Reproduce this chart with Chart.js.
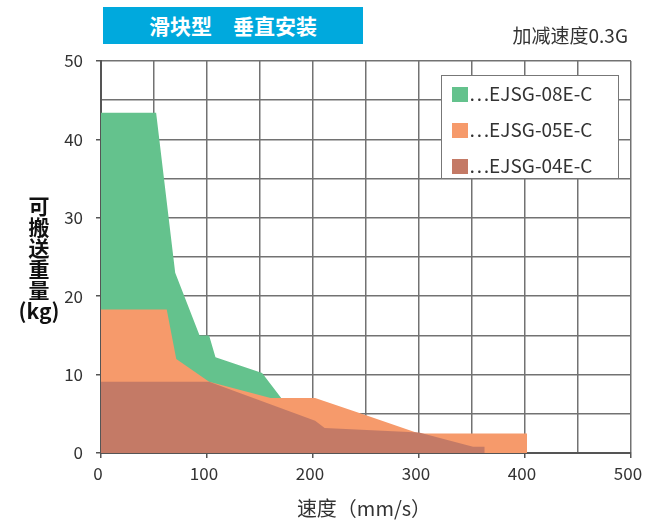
<!DOCTYPE html>
<html><head><meta charset="utf-8">
<script src="https://cdn.jsdelivr.net/npm/chart.js@4"></script>
<style>
html,body{margin:0;padding:0;background:#fff;}
#wrap{position:relative;width:668px;height:528px;font-family:"Noto Sans CJK SC","Noto Sans",sans-serif;}
#c{position:absolute;left:0;top:0;}
#title{position:absolute;left:103px;top:7px;width:260px;height:37px;background:#00a9dd;color:#fff;font-weight:bold;font-size:21px;line-height:37px;text-align:center;}
#sub{position:absolute;left:470px;top:23px;width:158px;text-align:right;font-size:19px;color:#333;line-height:24px;}
#ytitle{position:absolute;left:12px;top:195px;width:54px;text-align:center;font-weight:bold;font-size:21px;line-height:21px;color:#111;}
#xtitle{position:absolute;left:214px;top:494px;width:300px;text-align:center;font-size:20px;color:#333;line-height:28px;}
#legend{position:absolute;left:441px;top:75px;width:176px;height:102px;border:1.5px solid #777;background:#fff;}
.li{position:absolute;left:10px;height:22px;font-size:19px;color:#333;line-height:22px;white-space:nowrap;}
.sw{display:inline-block;width:16px;height:15px;vertical-align:-1px;margin-right:1px;}
</style></head>
<body>
<div id="wrap">
<canvas id="c" width="668" height="528"></canvas>
<div id="title">滑块型　垂直安装</div>
<div id="sub">加减速度0.3G</div>
<div id="ytitle">可<br>搬<br>送<br>重<br>量<br>(kg)</div>
<div id="xtitle">速度（mm/s）</div>
<div id="legend"></div>
</div>
<script>
// Data (speed mm/s -> payload kg)
const seriesNames = ['…EJSG-08E-C', '…EJSG-05E-C', '…EJSG-04E-C'];
const seriesColors = ['#64c28d', '#f69a6b', '#c47a66'];
const speed08 = [0, 52, 70, 93, 102, 108, 152, 170, 170];
const load08  = [43.4, 43.4, 23, 15, 15, 12.2, 10.2, 7, 0];
const speed05 = [0, 62, 71, 102, 160, 202, 250, 300, 402, 402];
const load05  = [18.3, 18.3, 12, 9.1, 7, 7, 4.8, 2.5, 2.5, 0];
const speed04 = [0, 102, 202, 211, 300, 351, 362, 362];
const load04  = [9.1, 9.1, 4.1, 3.2, 2.6, 0.8, 0.8, 0];
const xTickLabels = [0, 100, 200, 300, 400, 500];
const yTickLabels = [0, 10, 20, 30, 40, 50];

const toPts = (xs, ys) => xs.map((x, i) => ({x: x, y: ys[i]}));
const allSeries = [[speed08, load08], [speed05, load05], [speed04, load04]];

const datasets = allSeries.map((s, i) => ({
  label: seriesNames[i],
  data: toPts(s[0], s[1]),
  showLine: true,
  fill: 'origin',
  backgroundColor: seriesColors[i],
  borderColor: seriesColors[i],
  borderWidth: 0,
  pointRadius: 0,
  tension: 0,
  order: 3 - i
}));

const gridCol = '#727272';
const tickFont = { family: '"Noto Sans CJK SC","Noto Sans",sans-serif', size: 17 };
new Chart(document.getElementById('c'), {
  type: 'scatter',
  data: { datasets },
  options: {
    responsive: false,
    animation: false,
    devicePixelRatio: 1,
    layout: { padding: { left: 0, top: 61, right: 37, bottom: 0 } },
    plugins: { legend: { display: false }, tooltip: { enabled: false } },
    scales: {
      x: {
        type: 'linear', min: 0, max: 500,
        afterFit: s => { s.height = 75; },
        ticks: {
          stepSize: 50, autoSkip: false, maxRotation: 0, padding: 5, labelOffset: -3,
          color: '#333', font: tickFont,
          callback: v => xTickLabels.includes(v) ? String(v) : ''
        },
        grid: {
          color: gridCol, lineWidth: 1.5, tickLength: 5,
          tickColor: c => (c.tick && xTickLabels.includes(c.tick.value)) ? '#555' : 'rgba(0,0,0,0)'
        },
        border: { color: '#555', width: 2 }
      },
      y: {
        type: 'linear', min: 0, max: 50,
        afterFit: s => { s.width = 101; },
        ticks: {
          stepSize: 5, autoSkip: false, padding: 13,
          color: '#333', font: tickFont,
          callback: v => yTickLabels.includes(v) ? String(v) : ''
        },
        grid: {
          color: gridCol, lineWidth: 1.5, tickLength: 5,
          tickColor: c => (c.tick && yTickLabels.includes(c.tick.value)) ? '#555' : 'rgba(0,0,0,0)'
        },
        border: { color: '#555', width: 2 }
      }
    }
  }
});

const lg = document.getElementById('legend');
seriesNames.forEach((n, i) => {
  const d = document.createElement('div');
  d.className = 'li';
  d.style.top = (6 + i * 36) + 'px';
  d.innerHTML = '<span class="sw" style="background:' + seriesColors[i] + '"></span>' + n;
  lg.appendChild(d);
});
</script>
</body></html>
